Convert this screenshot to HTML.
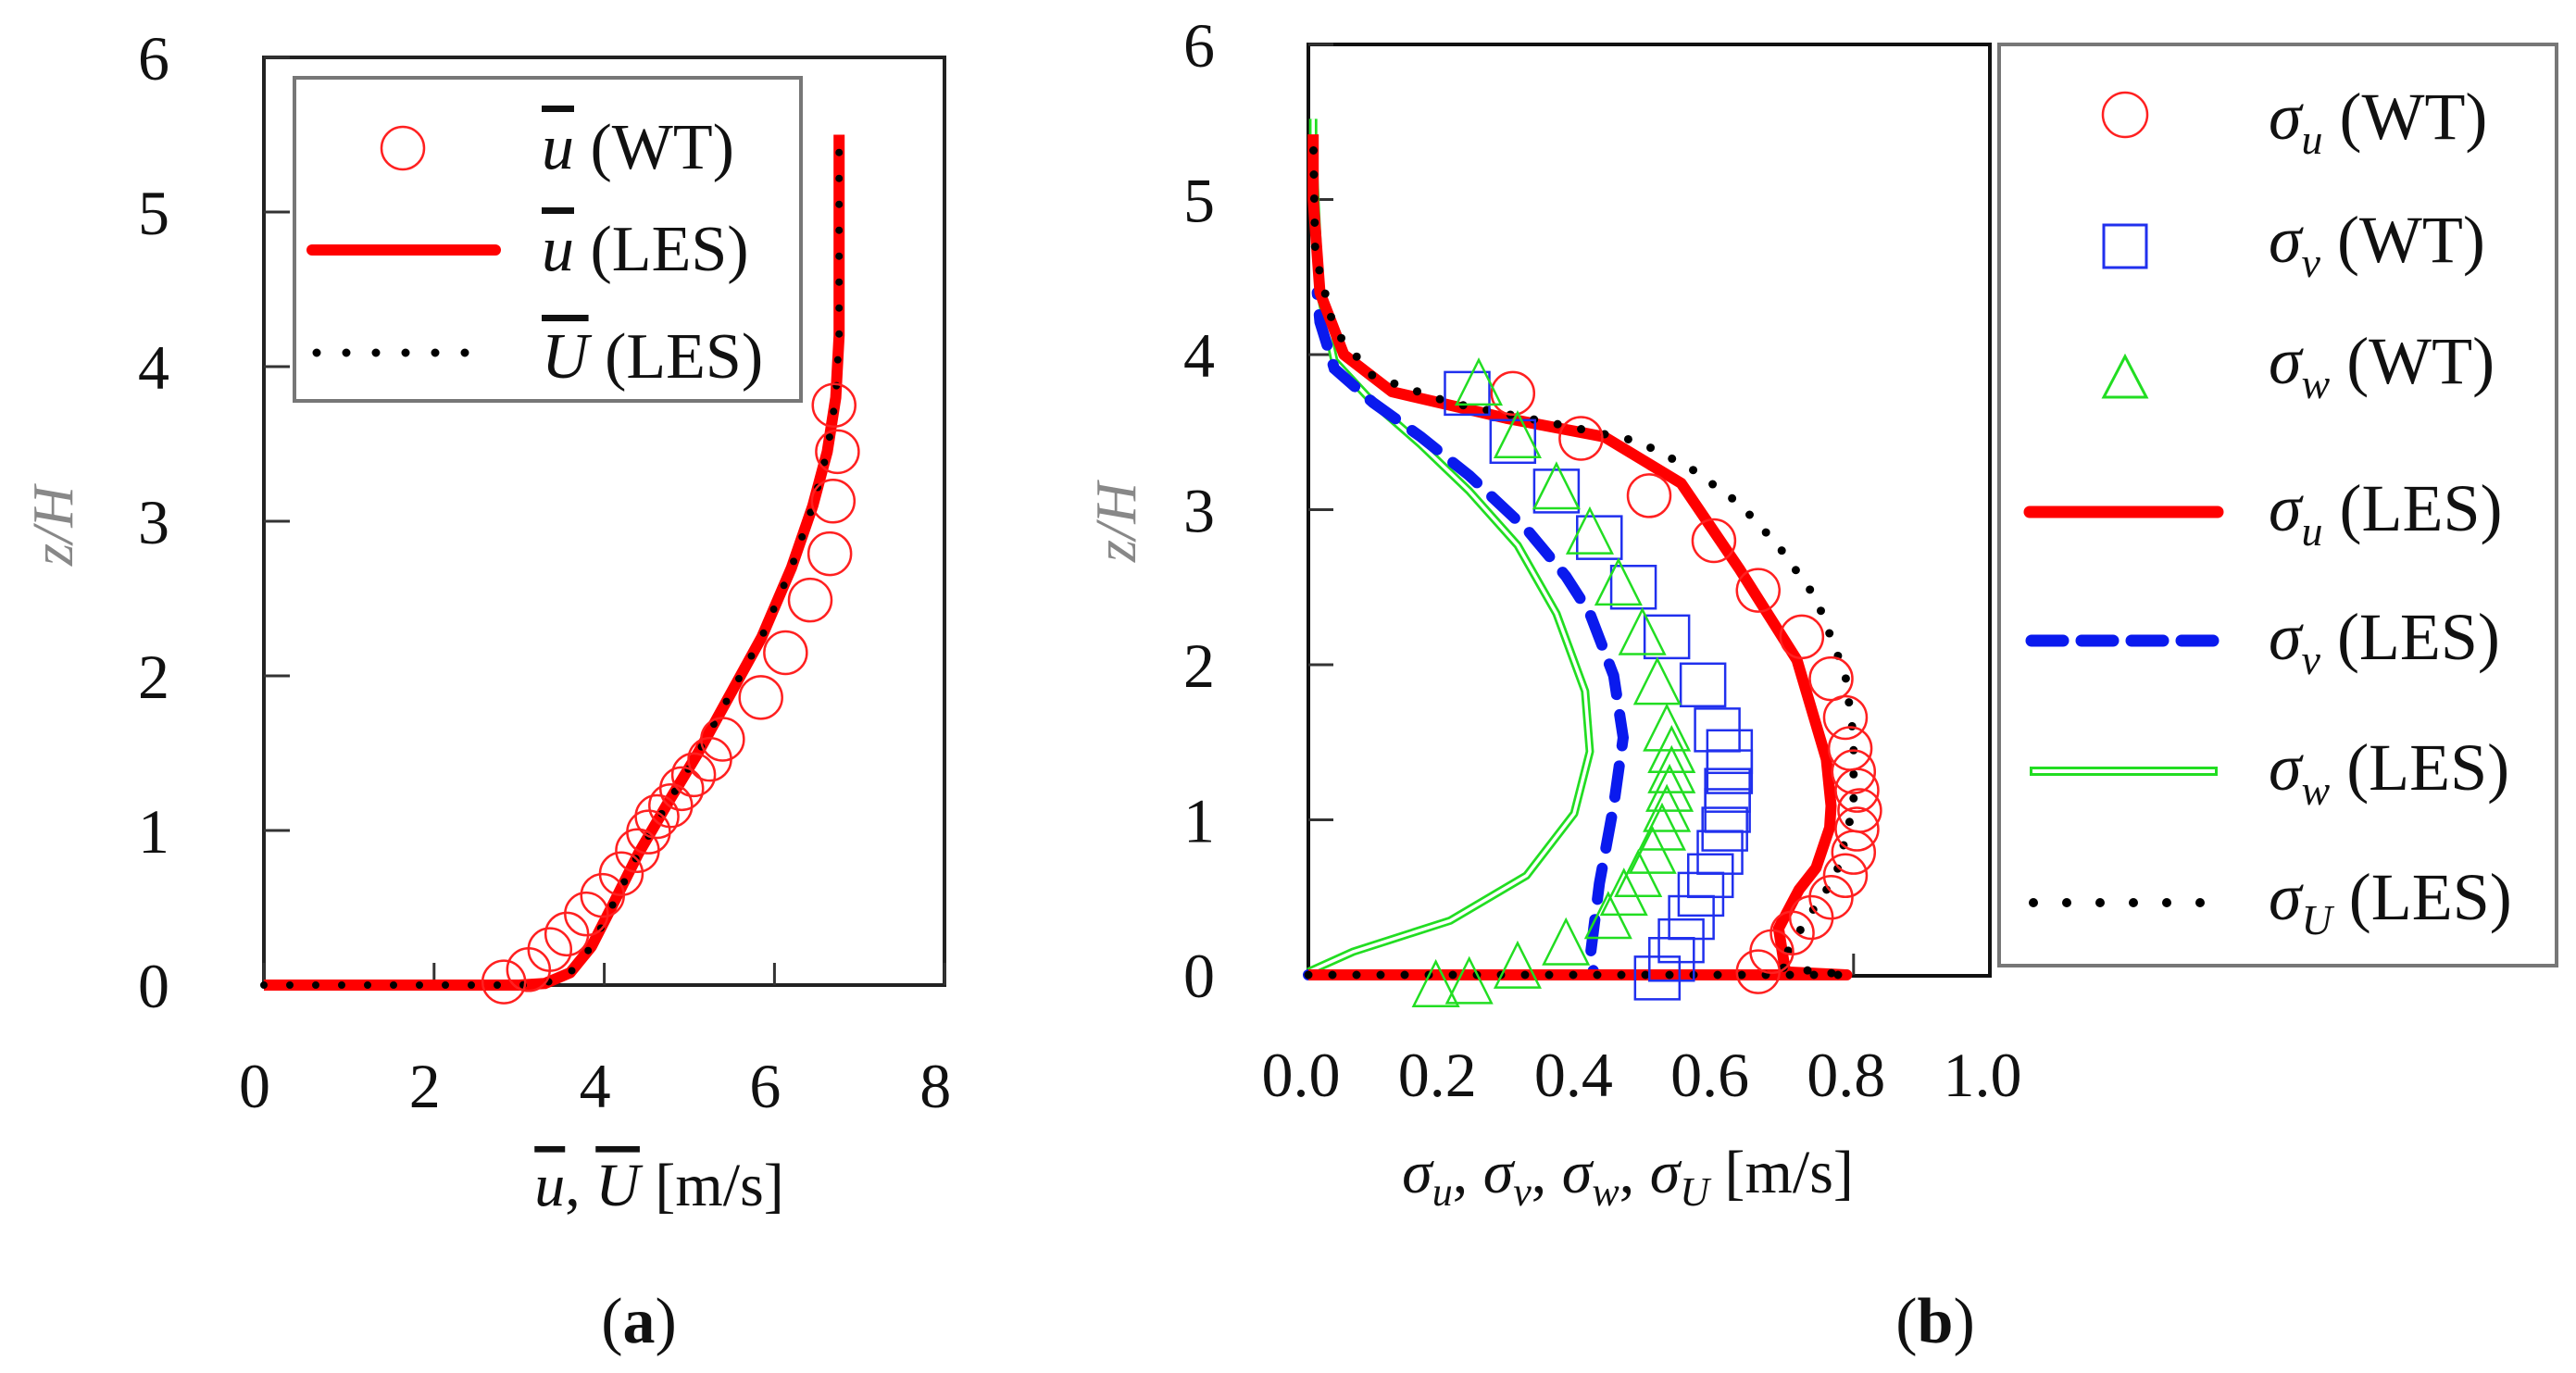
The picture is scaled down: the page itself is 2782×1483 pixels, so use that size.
<!DOCTYPE html>
<html><head><meta charset="utf-8"><style>
html,body{margin:0;padding:0;background:#fff;}
svg{display:block;font-family:"Liberation Serif",serif;}
</style></head><body>
<svg id="fig" width="2782" height="1483" viewBox="0 0 2782 1483" xmlns="http://www.w3.org/2000/svg">
<g id="pa"></g>
<g id="pb"></g>
</svg>
<script>
// ---------- Panel (a) data ----------
const aXTicks = [0, 2, 4, 6, 8];
const aYTicks = [0, 1, 2, 3, 4, 5, 6];
const aWT_u = [2.82,3.11,3.36,3.56,3.79,3.98,4.20,4.39,4.52,4.62,4.78,4.91,5.05,5.24,5.39,5.84,6.13,6.42,6.65,6.69,6.74,6.70];
const aWT_z = [0.02,0.10,0.23,0.33,0.46,0.58,0.72,0.87,0.99,1.09,1.16,1.27,1.36,1.46,1.59,1.86,2.15,2.49,2.79,3.13,3.45,3.75];
const aLES_u = [0,1,2,3,3.3,3.6,3.85,4.1,4.4,4.75,5.1,5.45,5.85,6.2,6.45,6.62,6.72,6.76,6.76];
const aLES_z = [0,0,0,0,0.01,0.08,0.25,0.52,0.85,1.18,1.5,1.85,2.25,2.7,3.1,3.45,3.8,4.2,5.5];
// ---------- Panel (b) data ----------
const bXTicks = ["0.0","0.2","0.4","0.6","0.8","1.0"];
const bYTicks = [0, 1, 2, 3, 4, 5, 6];
const bWTu_s = [0.30,0.40,0.50,0.595,0.66,0.724,0.767,0.788,0.795,0.80,0.805,0.809,0.805,0.80,0.788,0.767,0.738,0.71,0.68,0.66];
const bWTu_z = [3.75,3.46,3.09,2.80,2.48,2.18,1.91,1.66,1.46,1.31,1.19,1.06,0.94,0.79,0.64,0.50,0.37,0.27,0.15,0.02];
const bWTv_s = [0.233,0.30,0.364,0.427,0.477,0.526,0.579,0.60,0.618,0.618,0.615,0.615,0.611,0.604,0.59,0.576,0.562,0.547,0.533,0.512];
const bWTv_z = [3.75,3.44,3.12,2.82,2.50,2.18,1.87,1.58,1.44,1.31,1.19,1.06,0.94,0.79,0.64,0.52,0.37,0.22,0.10,-0.02];
const bWTw_s = [0.25,0.307,0.364,0.413,0.455,0.49,0.512,0.526,0.533,0.533,0.53,0.526,0.519,0.505,0.484,0.463,0.44,0.378,0.307,0.236,0.187];
const bWTw_z = [3.81,3.47,3.14,2.85,2.52,2.20,1.88,1.58,1.44,1.31,1.19,1.06,0.94,0.79,0.64,0.52,0.37,0.20,0.05,-0.05,-0.07];
const bLESu_s = [0,0.79,0.70,0.69,0.72,0.745,0.765,0.767,0.76,0.717,0.632,0.547,0.434,0.29,0.123,0.052,0.017,0.007,0.007];
const bLESu_z = [0,0,0.02,0.30,0.55,0.69,0.95,1.09,1.39,2.03,2.62,3.17,3.47,3.59,3.76,4.0,4.4,5.0,5.42];
const bLESv_s = [0,0.42,0.413,0.427,0.448,0.462,0.448,0.413,0.378,0.321,0.236,0.165,0.095,0.038,0.017,0.013];
const bLESv_z = [0,0,0.1,0.59,1.09,1.53,1.93,2.33,2.57,2.87,3.22,3.47,3.69,3.91,4.21,4.4];
const bLESw_s = [0,0.066,0.208,0.32,0.39,0.413,0.406,0.364,0.307,0.236,0.165,0.095,0.038,0.017,0.007,0.007];
const bLESw_z = [0.02,0.15,0.35,0.64,1.04,1.44,1.83,2.33,2.77,3.12,3.42,3.69,3.96,4.4,5.3,5.52];
const bLESU_s = [0,0.79,0.69,0.73,0.774,0.80,0.80,0.788,0.745,0.689,0.632,0.56,0.484,0.378,0.208,0.095,0.038,0.01,0.007];
const bLESU_z = [0,0,0.05,0.35,0.64,1.09,1.53,1.93,2.43,2.77,3.04,3.27,3.44,3.54,3.69,3.86,4.16,4.65,5.42];

const NS = "http://www.w3.org/2000/svg";
function mk(parent, tag, attrs, text){
  const e = document.createElementNS(NS, tag);
  for (const k in attrs) e.setAttribute(k, attrs[k]);
  if (text !== undefined) e.textContent = text;
  parent.appendChild(e); return e;
}
function pathFrom(xs, ys, fx, fy){
  return xs.map((v,i)=>(i?"L":"M")+fx(v).toFixed(1)+","+fy(ys[i]).toFixed(1)).join(" ");
}

// ================= Panel a =================
const pa = document.getElementById('pa');
const ax = v => 285 + v*91.9;
const ay = v => 1064 - v*167.0;
let e;
e = mk(pa,'rect',{x:285,y:62,width:735,height:1002,fill:'none',stroke:'#222','stroke-width':4});
 
aYTicks.forEach(t=>{
  e = mk(pa,'line',{x1:285,x2:313,y1:ay(t),y2:ay(t),stroke:'#333','stroke-width':3});
   
  e = mk(pa,'text',{x:166,y:ay(t)+24,'font-size':68,'text-anchor':'middle',fill:'#111'},String(t));
   
});
aXTicks.forEach(t=>{
  e = mk(pa,'line',{x1:ax(t),x2:ax(t),y1:1064,y2:1040,stroke:'#333','stroke-width':3});
   
  e = mk(pa,'text',{x:ax(t)-10,y:1196,'font-size':68,'text-anchor':'middle',fill:'#111'},String(t));
   
});
e = mk(pa,'text',{x:0,y:0,'font-size':62,'text-anchor':'middle',fill:'#888','font-style':'italic',transform:'translate(78,568) rotate(-90)'},'z/H');
 
e = mk(pa,'text',{x:712,y:1302,'font-size':66,'text-anchor':'middle',fill:'#111'});
 
e.innerHTML = '<tspan font-style="italic" text-decoration="overline">u</tspan>, <tspan font-style="italic" text-decoration="overline">U</tspan> [m/s]';
e = mk(pa,'text',{x:690,y:1450,'font-size':70,'text-anchor':'middle',fill:'#111'});
 
e.innerHTML = '(<tspan font-weight="bold">a</tspan>)';
// series
e = mk(pa,'path',{d:pathFrom(aLES_u,aLES_z,ax,ay),fill:'none',stroke:'#ff0000','stroke-width':12,'stroke-linejoin':'round'});
 
e = mk(pa,'path',{d:pathFrom(aLES_u,aLES_z,ax,ay),fill:'none',stroke:'#000','stroke-width':8,'stroke-dasharray':'0 28','stroke-linecap':'round'});
 
aWT_u.forEach((v,i)=>{
  e = mk(pa,'circle',{cx:ax(v),cy:ay(aWT_z[i]),r:23,fill:'none',stroke:'#ff2020','stroke-width':2.5});
   
});
// legend a
e = mk(pa,'rect',{x:318,y:84,width:547,height:349,fill:'#fff',stroke:'#777','stroke-width':4});
 
e = mk(pa,'circle',{cx:435,cy:160,r:23,fill:'none',stroke:'#ff2020','stroke-width':2.5});
 
e = mk(pa,'line',{x1:337,x2:535,y1:270,y2:270,stroke:'#ff0000','stroke-width':12,'stroke-linecap':'round'});
 
e = mk(pa,'line',{x1:342,x2:520,y1:381,y2:381,stroke:'#000','stroke-width':9,'stroke-dasharray':'0 32','stroke-linecap':'round'});
 
[['<tspan font-style="italic" text-decoration="overline">u</tspan>  (WT)',182,'legend-entry-u-wt'],
 ['<tspan font-style="italic" text-decoration="overline">u</tspan>  (LES)',292,'legend-entry-u-les'],
 ['<tspan font-style="italic" text-decoration="overline">U</tspan>  (LES)',408,'legend-entry-U-les']].forEach(r=>{
  e = mk(pa,'text',{x:585,y:r[1],'font-size':70,fill:'#111','xml:space':'preserve'});
   
  e.innerHTML = r[0];
});

// ================= Panel b =================
const pb = document.getElementById('pb');
const bx = v => 1413 + v*736;
const by = v => 1053 - v*167.5;
e = mk(pb,'rect',{x:1413,y:48,width:736,height:1006,fill:'none',stroke:'#111','stroke-width':4});
 
bYTicks.forEach(t=>{
  e = mk(pb,'line',{x1:1413,x2:1440,y1:by(t),y2:by(t),stroke:'#333','stroke-width':3});
   
  e = mk(pb,'text',{x:1295,y:by(t)+24,'font-size':68,'text-anchor':'middle',fill:'#111'},String(t));
   
});
bXTicks.forEach(t=>{
  e = mk(pb,'text',{x:bx(parseFloat(t))-8,y:1184,'font-size':68,'text-anchor':'middle',fill:'#111'},t);
   
});
e = mk(pb,'line',{x1:bx(0.8),x2:bx(0.8),y1:1053,y2:1030,stroke:'#333','stroke-width':3});
 
e = mk(pb,'text',{x:0,y:0,'font-size':62,'text-anchor':'middle',fill:'#888','font-style':'italic',transform:'translate(1226,564) rotate(-90)'},'z/H');
 
e = mk(pb,'text',{x:1758,y:1288,'font-size':66,'text-anchor':'middle',fill:'#111'});
 
e.innerHTML = '<tspan font-style="italic">σ</tspan><tspan font-style="italic" font-size="44" dy="14">u</tspan><tspan dy="-14">, </tspan><tspan font-style="italic">σ</tspan><tspan font-style="italic" font-size="44" dy="14">v</tspan><tspan dy="-14">, </tspan><tspan font-style="italic">σ</tspan><tspan font-style="italic" font-size="44" dy="14">w</tspan><tspan dy="-14">, </tspan><tspan font-style="italic">σ</tspan><tspan font-style="italic" font-size="44" dy="14">U</tspan><tspan dy="-14"> [m/s]</tspan>';
e = mk(pb,'text',{x:2090,y:1450,'font-size':70,'text-anchor':'middle',fill:'#111'});
 
e.innerHTML = '(<tspan font-weight="bold">b</tspan>)';
// LES lines
e = mk(pb,'path',{d:pathFrom(bLESw_s,bLESw_z,bx,by),fill:'none',stroke:'#22dd22','stroke-width':9,'stroke-linejoin':'round'});
 
e = mk(pb,'path',{d:pathFrom(bLESw_s,bLESw_z,bx,by),fill:'none',stroke:'#fff','stroke-width':3.5,'stroke-linejoin':'round'});
 
e = mk(pb,'path',{d:pathFrom(bLESv_s,bLESv_z,bx,by),fill:'none',stroke:'#0a1aee','stroke-width':12,'stroke-dasharray':'34 22','stroke-linecap':'round'});
 
e = mk(pb,'path',{d:pathFrom(bLESu_s,bLESu_z,bx,by),fill:'none',stroke:'#ff0000','stroke-width':12,'stroke-linejoin':'round'});
 
e = mk(pb,'path',{d:pathFrom(bLESU_s,bLESU_z,bx,by),fill:'none',stroke:'#000','stroke-width':9,'stroke-dasharray':'0 26','stroke-linecap':'round'});
 
// WT markers
bWTu_s.forEach((v,i)=>{
  e = mk(pb,'circle',{cx:bx(v),cy:by(bWTu_z[i]),r:23,fill:'none',stroke:'#ff2020','stroke-width':2.5});
   
});
bWTv_s.forEach((v,i)=>{
  e = mk(pb,'rect',{x:bx(v)-24,y:by(bWTv_z[i])-23,width:48,height:46,fill:'none',stroke:'#2030ee','stroke-width':2.5});
   
});
bWTw_s.forEach((v,i)=>{
  const cx=bx(v), cy=by(bWTw_z[i]);
  e = mk(pb,'polygon',{points:`${cx},${cy-26} ${cx-24},${cy+22} ${cx+24},${cy+22}`,fill:'none',stroke:'#22dd22','stroke-width':2.5});
   
});
// legend b
e = mk(pb,'rect',{x:2159,y:48,width:602,height:995,fill:'#fff',stroke:'#777','stroke-width':4});
 
e = mk(pb,'circle',{cx:2295,cy:124,r:24,fill:'none',stroke:'#ff2020','stroke-width':2.5});
 
e = mk(pb,'rect',{x:2272,y:243,width:46,height:46,fill:'none',stroke:'#2030ee','stroke-width':3});
 
e = mk(pb,'polygon',{points:'2295,385 2272,429 2318,429',fill:'none',stroke:'#22dd22','stroke-width':3});
 
e = mk(pb,'line',{x1:2192,x2:2395,y1:553,y2:553,stroke:'#ff0000','stroke-width':13,'stroke-linecap':'round'});
 
e = mk(pb,'line',{x1:2194,x2:2395,y1:692,y2:692,stroke:'#0a1aee','stroke-width':13,'stroke-dasharray':'34 20','stroke-linecap':'round'});
 
e = mk(pb,'line',{x1:2192,x2:2395,y1:833,y2:833,stroke:'#22dd22','stroke-width':10});
 
e = mk(pb,'line',{x1:2195,x2:2392,y1:833,y2:833,stroke:'#fff','stroke-width':4});
 
e = mk(pb,'line',{x1:2196,x2:2380,y1:975,y2:975,stroke:'#000','stroke-width':10,'stroke-dasharray':'0 36','stroke-linecap':'round'});
 
[['u','WT',150,'legend-entry-sigma-u-wt'],['v','WT',283,'legend-entry-sigma-v-wt'],['w','WT',414,'legend-entry-sigma-w-wt'],
 ['u','LES',573,'legend-entry-sigma-u-les'],['v','LES',712,'legend-entry-sigma-v-les'],['w','LES',853,'legend-entry-sigma-w-les'],['U','LES',993,'legend-entry-sigma-U-les']].forEach(r=>{
  e = mk(pb,'text',{x:2450,y:r[2],'font-size':72,fill:'#111'});
   
  e.innerHTML = '<tspan font-style="italic">σ</tspan><tspan font-style="italic" font-size="46" dy="16">'+r[0]+'</tspan><tspan dy="-16"> ('+r[1]+')</tspan>';
});
</script>
</body></html>
